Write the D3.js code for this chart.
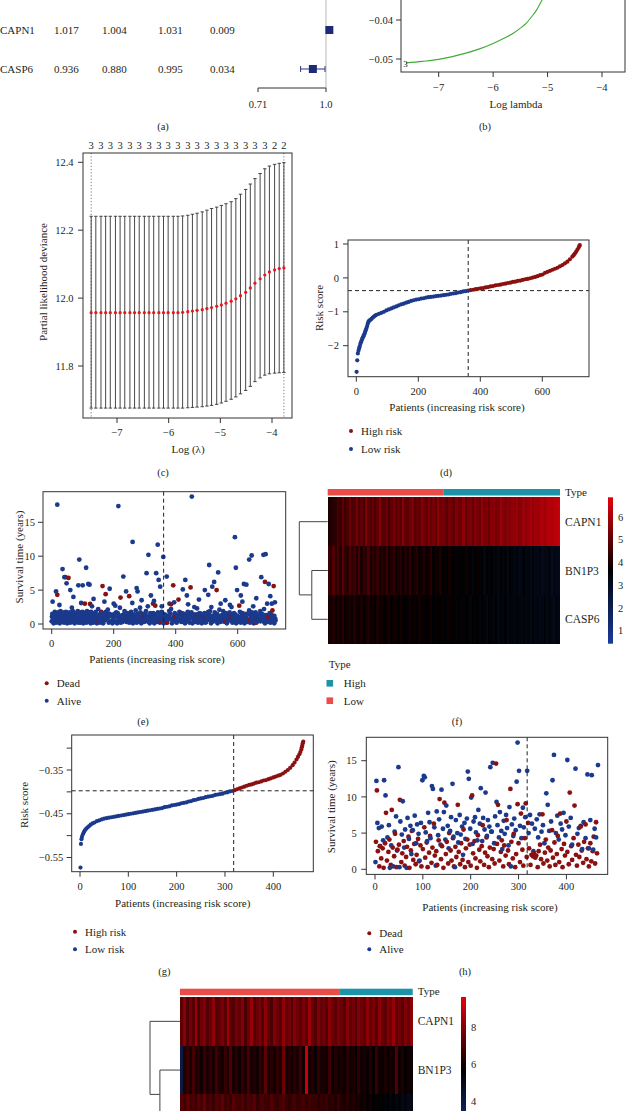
<!DOCTYPE html>
<html><head><meta charset="utf-8">
<script src="https://cdn.jsdelivr.net/npm/d3@7"></script>
<style>
body{margin:0;background:#fff}
svg{display:block}
text{font-family:"Liberation Serif","Times New Roman",serif;fill:#231f20}
</style></head>
<body><svg id="chart" width="626" height="1111"></svg>
<script>
// ---------------- DATA ----------------
// (a) forest plot
const aGenes = ["CAPN1", "CASP6"];
const aHR = [1.017, 0.936];
const aLow = [1.004, 0.880];
const aHigh = [1.031, 0.995];
const aP = [0.009, 0.034];
const aTicks = [0.71, 1.0];
const aTickLabels = ["0.71", "1.0"];

// (b) coefficient path (log lambda, coefficient)
const bLambda = [-7.6, -7.3, -7.0, -6.75, -6.5, -6.25, -6.0, -5.8, -5.63, -5.5, -5.39, -5.3, -5.2, -5.11, -5.0, -4.8];
const bCoef = [-0.0510, -0.0506, -0.0501, -0.0494, -0.0485, -0.0474, -0.0460, -0.0447, -0.0434, -0.0421, -0.0408, -0.0393, -0.0374, -0.0351, -0.0320, -0.0270];
const bXTicks = [-7, -6, -5, -4];
const bXLabels = ["−7", "−6", "−5", "−4"];
const bYTicks = [-0.05, -0.04];
const bYLabels = ["−0.05", "−0.04"];

// (c) cross-validation curve
const cLambda = [-7.50,-7.41,-7.31,-7.22,-7.13,-7.03,-6.94,-6.85,-6.75,-6.66,-6.57,-6.47,-6.38,-6.29,-6.19,-6.10,-6.01,-5.91,-5.82,-5.73,-5.63,-5.54,-5.45,-5.35,-5.26,-5.17,-5.07,-4.98,-4.89,-4.79,-4.70,-4.61,-4.51,-4.42,-4.33,-4.23,-4.14,-4.05,-3.95,-3.86,-3.77];
const cMean = [11.957,11.957,11.957,11.957,11.957,11.957,11.957,11.957,11.957,11.957,11.957,11.957,11.957,11.957,11.957,11.957,11.957,11.957,11.957,11.958,11.960,11.962,11.964,11.966,11.969,11.972,11.976,11.980,11.985,11.991,11.998,12.007,12.017,12.030,12.044,12.057,12.068,12.077,12.083,12.087,12.089];
const cUpper = [12.241,12.241,12.241,12.241,12.241,12.241,12.241,12.241,12.241,12.241,12.241,12.241,12.241,12.241,12.241,12.241,12.241,12.241,12.241,12.242,12.244,12.247,12.250,12.254,12.259,12.264,12.268,12.273,12.278,12.284,12.293,12.306,12.320,12.336,12.352,12.367,12.381,12.389,12.394,12.397,12.399];
const cLower = [11.676,11.676,11.676,11.676,11.676,11.676,11.676,11.676,11.676,11.676,11.676,11.676,11.676,11.676,11.676,11.676,11.676,11.676,11.676,11.676,11.677,11.678,11.679,11.680,11.682,11.684,11.687,11.691,11.696,11.702,11.709,11.718,11.728,11.740,11.754,11.765,11.773,11.777,11.779,11.780,11.781];
const cNonzero = [3,3,3,3,3,3,3,3,3,3,3,3,3,3,3,3,3,3,3,3,3,3,3,3,3,3,3,3,3,3,3,3,3,3,3,3,3,3,2,2,2];
const cXTicks = [-7, -6, -5, -4];
const cXLabels = ["−7", "−6", "−5", "−4"];
const cYTicks = [11.8, 12.0, 12.2, 12.4];
const cYLabels = ["11.8", "12.0", "12.2", "12.4"];

// (d) risk score, training cohort [patient rank, risk score]
const dRisk = [[1,-2.77],[3,-2.43],[5,-2.23],[7,-2.15],[9,-2.08],[11,-2.02],[13,-1.95],[15,-1.90],[17,-1.85],[19,-1.80],[21,-1.76],[23,-1.72],[25,-1.68],[27,-1.64],[29,-1.58],[31,-1.53],[33,-1.48],[35,-1.42],[37,-1.35],[39,-1.30],[41,-1.27],[45,-1.24],[49,-1.21],[53,-1.17],[57,-1.14],[61,-1.11],[65,-1.09],[73,-1.06],[81,-1.03],[89,-1.00],[97,-0.96],[105,-0.93],[113,-0.90],[121,-0.87],[129,-0.84],[137,-0.81],[145,-0.78],[153,-0.76],[161,-0.73],[169,-0.71],[177,-0.68],[185,-0.66],[193,-0.64],[201,-0.63],[209,-0.61],[217,-0.60],[225,-0.58],[233,-0.57],[241,-0.56],[249,-0.55],[257,-0.54],[265,-0.53],[273,-0.52],[281,-0.51],[289,-0.50],[297,-0.49],[305,-0.47],[313,-0.46],[321,-0.45],[329,-0.43],[337,-0.42],[345,-0.40],[353,-0.39],[361,-0.375],[369,-0.36],[377,-0.35],[385,-0.33],[393,-0.32],[401,-0.31],[409,-0.30],[417,-0.28],[425,-0.27],[433,-0.25],[441,-0.24],[449,-0.22],[457,-0.21],[465,-0.20],[473,-0.18],[481,-0.17],[489,-0.15],[497,-0.14],[505,-0.12],[513,-0.11],[521,-0.09],[529,-0.08],[537,-0.06],[545,-0.04],[553,-0.03],[561,-0.01],[569,0.01],[577,0.03],[585,0.05],[593,0.08],[601,0.10],[609,0.15],[617,0.18],[625,0.21],[633,0.24],[641,0.27],[649,0.30],[657,0.34],[665,0.38],[673,0.43],[681,0.48],[689,0.55],[697,0.63],[701,0.67],[705,0.72],[709,0.77],[713,0.83],[717,0.89],[719,0.93],[721,0.97]];
const dCutRank = 361;
const dCutScore = -0.375;
const dXTicks = [0, 200, 400, 600];
const dXLabels = ["0", "200", "400", "600"];
const dYTicks = [-2, -1, 0, 1];
const dYLabels = ["−2", "−1", "0", "1"];

// (e) survival status, training cohort [patient rank, years]
const eAlive = [[0,0.4],[2,1.5],[4,0.8],[6,0.1],[8,1.2],[10,1.8],[12,0.5],[14,0.2],[16,1.0],[18,1.6],[20,0.3],[22,0.9],[24,1.4],[26,0.1],[28,1.9],[30,0.6],[32,1.1],[34,0.3],[36,1.7],[38,0.8],[40,0.2],[42,1.3],[44,0.5],[46,1.8],[48,0.9],[50,0.1],[52,1.5],[54,0.4],[56,1.0],[58,1.7],[60,0.2],[62,0.7],[64,1.3],[66,0.3],[68,1.9],[70,0.6],[72,1.2],[74,0.1],[76,1.6],[78,0.8],[80,0.4],[82,1.4],[84,1.9],[86,0.2],[88,1.0],[90,0.5],[92,1.7],[94,0.3],[96,1.2],[98,0.7],[100,1.8],[102,0.1],[104,1.1],[106,0.4],[108,1.5],[110,0.9],[112,0.2],[114,1.9],[116,0.6],[118,1.3],[120,0.3],[122,1.7],[124,0.8],[126,0.1],[128,1.2],[130,0.5],[132,1.6],[134,0.2],[136,0.9],[138,1.4],[140,0.4],[142,1.8],[144,0.7],[146,0.1],[148,1.1],
[151,0.3],[154,1.4],[157,0.2],[160,0.7],[163,1.6],[166,0.1],[169,0.5],[172,1.1],[175,1.8],[178,0.8],[181,2.1],[184,0.2],[187,1.5],[190,1.2],[193,0.4],[196,0.1],[199,0.9],[202,1.5],[205,0.3],[208,1.7],[211,0.1],[214,1.0],[217,0.4],[220,2.4],[223,0.2],[226,0.8],[229,1.3],[232,0.5],[235,1.9],[238,0.9],[241,0.3],[244,1.6],[247,0.6],[250,0.2],[253,1.1],[256,1.8],[259,0.8],[262,0.1],[265,1.4],[268,0.5],[271,2.0],[274,0.2],[277,0.7],[280,1.2],[283,0.3],[286,1.7],[289,0.1],[292,0.6],[295,1.5],[298,0.3],[301,0.8],[304,1.9],[307,1.0],[310,2.6],[313,0.4],[316,0.1],[319,0.7],[322,1.3],[325,0.3],[328,1.6],[331,0.1],[334,0.5],[337,1.1],[340,0.3],[343,1.7],[346,0.6],[349,0.2],[352,1.0],[355,1.8],[358,0.8],[361,0.1],[364,1.4],[367,0.5],[370,0.2],[373,0.9],[376,1.2],[379,1.9],[382,0.7],[385,2.2],[388,0.1],[391,0.6],[394,1.1],[397,1.6],
[400,0.9],[403,0.2],[406,1.3],[409,0.5],[412,1.8],[415,1.0],[418,0.6],[421,1.5],[424,0.3],[427,0.8],[430,0.1],[433,1.2],[436,0.4],[439,1.8],[442,0.7],[445,0.2],[448,1.1],[451,1.7],[454,0.1],[457,0.9],[460,1.4],[463,0.3],[466,0.7],[469,2.3],[472,0.2],[475,1.0],[478,1.6],[481,1.3],[484,0.1],[487,0.8],[490,0.4],[493,1.6],[496,0.2],[499,0.9],[502,1.2],[505,1.8],[508,0.6],[511,1.9],[514,0.1],[517,1.1],[520,0.5],[523,0.8],[526,1.7],[529,1.4],[532,0.6],[535,0.1],[538,1.0],[541,2.1],[544,0.3],[547,0.7],[550,1.3],[553,1.9],[556,0.9],[559,0.4],[562,1.6],[565,0.1],[568,0.8],[571,1.2],[574,1.7],[577,0.6],[580,2.5],[583,0.2],[586,1.0],[589,0.5],[592,1.4],[595,0.1],[598,0.7],[601,1.1],[604,0.4],[607,1.8],[610,0.2],[613,0.9],[616,1.6],[619,1.3],[622,0.1],[625,0.8],[628,1.5],[631,0.3],[634,0.6],[637,2.0],[640,0.2],[643,1.0],[646,1.7],[649,1.2],[652,0.1],[655,0.7],[658,1.7],[661,0.3],[664,0.9],[667,0.5],[670,1.4],[673,1.9],[676,0.8],[679,1.1],[682,0.4],[685,2.2],[688,0.1],[691,0.6],[694,1.3],[697,0.3],[700,0.9],[703,1.6],[706,0.2],[709,0.7],[712,1.2],[715,0.4],[718,0.1],[721,0.8],
[1,1.1],[5,0.6],[9,1.4],[13,0.9],[17,0.3],[21,1.7],[25,0.7],[29,1.2],[33,0.4],[37,1.0],[43,0.6],[47,1.5],[53,0.8],[57,0.3],[63,1.1],[67,0.5],[73,1.6],[77,0.9],[83,0.6],[87,1.3],[93,0.2],[97,1.0],[103,1.5],[107,0.6],[113,0.9],[117,1.4],[123,0.4],[127,1.8],[133,1.0],[137,0.5],[143,1.3],[147,0.8],[153,1.2],[158,0.5],[163,0.9],[168,1.3],[173,0.6],[178,1.5],[183,1.0],[188,0.4],[193,1.3],[198,0.7],[203,1.1],[208,0.4],[213,1.6],[218,0.9],[223,1.2],[228,0.3],[233,1.4],[238,0.6],[243,1.1],[248,0.9],[253,1.6],[258,0.5],[263,1.0],[268,1.3],[273,0.7],[278,1.5],[283,1.0],[288,0.5],[293,1.2],[298,0.8],[303,1.4],[308,0.4],[313,1.1],[318,1.6],[323,0.6],[328,1.0],[333,1.4],[338,0.8],[343,0.4],[348,1.2],[353,1.5],[358,0.5],[363,1.0],[368,1.3],[373,0.6],[378,1.1],[383,1.5],[388,0.8],[393,0.4],[398,1.3],[403,0.7],[408,1.1],[413,1.4],[418,0.3],[423,1.0],[428,1.5],[433,0.7],[438,1.2],[443,0.5],[448,1.6],[453,0.9],[458,0.4],[463,1.2],[468,1.0],[473,1.5],[478,0.6],[483,1.1],[488,1.4],[493,0.8],[498,0.3],[503,1.0],[508,1.4],[513,0.6],[518,1.2],[523,0.4],[528,1.0],[533,1.5],[538,0.5],[543,1.2],[548,0.9],[553,0.4],[558,1.4],[563,0.8],[568,1.1],[573,0.5],[578,1.3],[583,0.9],[588,1.6],[593,0.6],[598,1.2],[603,0.3],[608,1.0],[613,1.5],[618,0.6],[623,1.2],[628,0.9],[633,0.4],[638,1.4],[643,0.7],[648,1.1],[653,0.5],[658,1.3],[663,0.8],[668,1.2],[673,0.4],[678,1.5],[683,0.9],[688,1.3],[693,0.6],[698,1.1],[703,0.4],[708,1.4],[713,0.9],[718,1.2],[722,0.5],
[25,2.8],[65,2.4],[95,3.1],[130,2.6],[170,3.3],[205,2.7],[260,3.1],[285,2.4],[330,3.4],[355,2.6],[395,3.2],[440,2.9],[475,3.6],[515,2.5],[545,3.0],[575,2.8],[615,3.3],[650,2.6],[695,3.0],[705,4.1],
[3,3.3],[14,4.8],[18,17.6],[35,8.1],[41,6.9],[44,6.9],[48,6.0],[60,5.0],[70,4.0],[86,5.7],[89,9.5],[100,5.7],[111,8.3],[118,5.9],[122,5.8],[135,3.7],[150,2.2],[187,5.2],[200,3.0],[215,17.4],[231,7.0],[240,4.8],[261,12.1],[274,5.3],[277,4.8],[290,3.5],[306,7.5],[312,10.2],[320,4.2],[337,7.5],[342,11.7],[345,6.5],[350,5.5],[360,9.9],[371,7.0],[380,3.0],[423,5.1],[431,6.5],[436,4.2],[452,18.8],[460,2.5],[494,5.0],[505,4.3],[508,8.7],[518,5.5],[524,6.2],[537,7.6],[560,3.5],[591,12.8],[594,8.3],[598,5.0],[610,4.2],[620,5.9],[628,5.8],[637,9.5],[645,10.1],[660,3.8],[676,6.9],[683,10.2],[690,10.3],[700,5.9],[710,3.0],[720,3.2]];
const eDead = [[18,4.3],[54,6.8],[107,3.0],[124,2.95],[150,0.3],[160,1.8],[164,5.6],[174,4.4],[222,3.9],[245,0.6],[250,4.1],[300,1.2],[327,3.0],[334,2.7],[352,0.4],[372,0.2],[385,2.9],[392,5.7],[400,1.0],[409,3.6],[420,1.6],[448,5.4],[470,1.4],[495,0.9],[532,5.0],[560,0.3],[578,1.0],[585,0.9],[605,2.7],[640,0.6],[660,0.2],[688,6.2],[700,1.1],[712,2.0],[716,5.6]];
const eXTicks = [0, 200, 400, 600];
const eXLabels = ["0", "200", "400", "600"];
const eYTicks = [0, 5, 10, 15];
const eYLabels = ["0", "5", "10", "15"];

// (f) heatmap, training cohort (columns ordered by patient rank)
const fTypeCounts = [361, 361]; // Low, High
const fGenes = ["CAPN1", "BN1P3", "CASP6"];
const fCAPN1 = [4.0,4.1,4.2,4.3,4.6,4.4,5.0,4.5,4.7,5.2,4.6,4.8,5.3,4.7,5.0,4.6,5.4,4.9,4.8,5.1,4.7,5.0,5.5,4.8,4.9,5.2,4.6,5.0,5.3,4.9,5.1,4.8,5.6,5.0,4.9,5.2,5.4,4.9,5.1,5.0,5.5,5.2,5.0,5.4,5.1,5.3,5.0,5.6,5.2,5.3,
5.2,4.9,5.3,5.1,5.0,5.4,5.1,5.2,5.6,5.0,5.3,5.4,5.1,5.5,5.3,5.2,5.7,5.3,5.4,5.2,5.5,5.6,5.3,5.4,5.8,5.5,5.4,5.6,5.5,5.7,5.6,5.8,5.5,5.7,5.9,5.6,5.8,6.0,5.7,5.9,5.8,6.0,6.1,5.9,6.1,6.2,6.1,6.3,6.3,6.4];
const fBN1P3 = [4.5,4.2,4.8,4.3,4.6,4.1,4.9,4.4,4.2,4.7,4.3,4.5,4.1,4.6,4.0,4.4,4.2,4.7,4.0,4.3,4.1,4.4,3.9,4.2,4.0,4.5,3.9,4.1,4.3,3.9,4.0,4.2,3.8,4.1,3.9,4.3,3.8,4.0,4.2,3.8,3.9,4.1,3.8,3.9,4.2,3.7,3.9,3.8,4.0,3.7,
3.8,3.6,3.9,3.7,3.6,3.8,3.5,3.7,3.6,3.9,3.5,3.7,3.4,3.6,3.8,3.5,3.6,3.3,3.7,3.5,3.6,3.4,3.5,3.3,3.7,3.4,3.5,3.2,3.6,3.4,3.3,3.5,3.2,3.4,3.6,3.3,3.4,3.1,3.5,3.3,3.2,3.4,3.1,3.3,3.2,3.4,3.0,3.3,3.2,3.1];
const fCASP6 = [4.0,3.9,4.1,3.8,4.0,3.9,4.2,3.8,3.9,4.0,3.8,4.1,3.9,3.8,4.0,3.7,3.9,4.1,3.8,3.9,3.7,4.0,3.8,3.9,3.7,3.8,4.0,3.7,3.9,3.8,3.7,3.9,3.8,3.6,3.8,3.9,3.7,3.8,3.6,3.9,3.7,3.8,3.6,3.7,3.9,3.6,3.8,3.7,3.6,3.8,
3.7,3.5,3.8,3.6,3.7,3.5,3.6,3.8,3.5,3.7,3.6,3.4,3.7,3.5,3.6,3.4,3.7,3.5,3.3,3.6,3.5,3.4,3.6,3.3,3.5,3.4,3.6,3.2,3.5,3.4,3.3,3.5,3.4,3.2,3.5,3.3,3.4,3.2,3.5,3.3,3.4,3.2,3.3,3.5,3.2,3.4,3.3,3.1,3.4,3.3];
const fColorDomain = [0.42, 3.65, 6.87];
const fBarTicks = [1, 2, 3, 4, 5, 6];

// (g) risk score, validation cohort
const gRisk = [[1,-0.573],[2,-0.519],[3,-0.508],[4,-0.503],[6,-0.497],[8,-0.492],[10,-0.488],[13,-0.484],[16,-0.481],[19,-0.478],[22,-0.475],[26,-0.472],[30,-0.470],[35,-0.467],[40,-0.465],[45,-0.463],[50,-0.461],[55,-0.460],[60,-0.459],[65,-0.458],[70,-0.457],[75,-0.456],[80,-0.455],[85,-0.454],[90,-0.453],[95,-0.452],[100,-0.451],[105,-0.450],[110,-0.449],[115,-0.448],[120,-0.447],[125,-0.446],[130,-0.445],[135,-0.444],[140,-0.443],[145,-0.442],[150,-0.441],[155,-0.440],[160,-0.439],[165,-0.438],[170,-0.437],[175,-0.435],[180,-0.434],[185,-0.433],[190,-0.431],[195,-0.430],[200,-0.429],[205,-0.428],[210,-0.426],[215,-0.425],[220,-0.424],[225,-0.422],[230,-0.421],[235,-0.419],[240,-0.418],[245,-0.416],[250,-0.415],[255,-0.414],[260,-0.412],[265,-0.411],[270,-0.410],[275,-0.409],[280,-0.407],[285,-0.406],[290,-0.405],[295,-0.404],[300,-0.402],[305,-0.401],[310,-0.399],[315,-0.398],[320,-0.396],[325,-0.394],[330,-0.392],[335,-0.390],[340,-0.388],[345,-0.386],[350,-0.384],[355,-0.383],[360,-0.381],[365,-0.379],[370,-0.378],[375,-0.376],[380,-0.374],[385,-0.373],[390,-0.371],[395,-0.369],[400,-0.367],[405,-0.365],[410,-0.363],[415,-0.361],[420,-0.358],[425,-0.354],[430,-0.350],[435,-0.345],[440,-0.339],[444,-0.333],[448,-0.326],[451,-0.320],[454,-0.314],[456,-0.309],[458,-0.303],[459,-0.298],[460,-0.294],[461,-0.289],[462,-0.285]];
const gCutRank = 318;
const gCutScore = -0.3975;
const gXTicks = [0, 100, 200, 300, 400];
const gXLabels = ["0", "100", "200", "300", "400"];
const gYTicks = [-0.55, -0.50, -0.45, -0.40, -0.35, -0.30];
const gYLabels = ["−0.55", "", "−0.45", "", "−0.35", ""];

// (h) survival status, validation cohort
const hDead = [[2,3.8],[4,10.9],[6,2.5],[9,0.4],[11,3.2],[13,1.5],[16,2.9],[18,0.2],[21,3.6],[23,7.8],[25,1.2],[28,2.4],[30,4.1],[33,0.6],[35,8.2],[37,3.0],[40,1.8],[42,4.9],[45,0.3],[47,2.7],[50,3.4],[52,9.6],[55,1.0],[57,2.2],[60,3.9],[62,0.5],[65,1.7],[67,3.1],[70,4.5],[72,0.2],[75,2.6],[77,5.3],[80,1.3],[82,3.5],[85,0.7],[87,2.0],[90,4.2],[92,1.1],[95,3.3],[97,0.4],[100,2.8],[103,5.8],[105,1.6],[108,3.7],[110,0.3],[113,2.3],[115,4.6],[118,0.9],[120,3.0],[123,6.3],[125,1.9],[128,2.5],[130,0.6],[133,4.0],[135,9.7],[138,1.4],[140,3.2],[143,0.2],[145,9.2],[148,2.1],[150,3.8],[153,0.8],[155,5.0],[158,2.6],[160,1.2],[163,4.3],[165,0.4],[168,3.1],[170,1.7],[173,8.9],[175,2.4],[178,0.7],[180,3.6],[183,1.3],[185,5.5],[188,0.3],[190,2.9],[193,4.1],[195,1.0],[198,3.4],[200,0.5],[203,10.2],[205,2.2],[208,3.9],[210,1.5],[213,0.2],[215,4.7],[218,2.7],[220,1.1],[223,3.2],[225,6.1],[228,0.6],[230,2.3],[233,4.4],[235,1.8],[238,0.3],[240,3.0],[243,5.2],[245,1.4],[248,2.8],[250,0.8],[253,14.6],[255,3.5],[257,8.9],[260,1.2],[263,2.4],[265,4.0],[268,0.4],[270,3.3],[273,1.9],[275,6.8],[278,2.6],[280,0.7],[283,11.1],[285,3.8],[288,1.5],[290,4.9],[293,0.3],[295,2.1],[298,9.0],[300,3.6],[303,1.0],[305,7.7],[308,2.7],[310,0.5],[313,4.3],[315,9.1],[317,1.7],[320,6.4],[322,2.9],[325,0.6],[327,2.0],[330,1.8],[332,2.2],[335,1.6],[337,1.9],[340,0.3],[342,2.5],[345,3.4],[347,1.4],[350,7.6],[352,0.8],[355,2.3],[357,4.1],[360,1.2],[362,3.0],[365,0.4],[367,2.6],[370,5.4],[372,1.6],[375,3.7],[377,0.6],[380,2.1],[382,4.6],[385,1.0],[387,7.7],[390,2.8],[392,0.3],[395,3.5],[397,1.9],[400,6.6],[402,2.4],[405,0.7],[407,10.6],[410,3.2],[412,1.3],[415,4.3],[417,8.8],[420,2.0],[422,0.5],[425,3.4],[427,1.7],[430,5.9],[432,2.6],[435,0.9],[437,3.8],[440,6.2],[442,1.4],[445,2.9],[447,0.4],[450,3.6],[452,1.1],[455,2.5],[457,4.5],[460,0.8],[462,6.5],[464,2.2]];
const hAlive = [[1,1.0],[3,12.2],[5,6.4],[8,5.7],[10,3.2],[14,5.9],[17,4.0],[19,12.3],[22,10.2],[26,4.4],[29,6.1],[31,0.2],[34,3.3],[38,0.4],[41,5.2],[44,7.3],[46,2.6],[49,14.1],[51,0.3],[53,6.6],[56,4.8],[58,9.4],[61,3.0],[63,5.5],[66,0.2],[68,7.1],[71,4.2],[74,6.0],[76,2.1],[79,5.4],[83,7.4],[86,3.6],[88,6.2],[91,4.9],[93,1.2],[96,6.4],[99,12.3],[102,12.9],[104,12.7],[106,5.1],[109,3.9],[111,7.8],[114,6.5],[116,4.3],[119,11.5],[121,11.1],[124,5.8],[127,0.5],[129,8.0],[132,4.7],[134,6.9],[137,3.4],[139,11.0],[142,5.6],[144,7.9],[147,4.1],[149,8.8],[152,6.0],[154,2.9],[157,5.3],[159,7.2],[162,11.8],[164,4.5],[167,0.3],[169,6.8],[172,5.0],[174,3.7],[177,7.5],[179,4.8],[182,5.9],[184,2.0],[187,6.4],[189,4.2],[192,7.0],[194,13.5],[196,12.5],[199,5.6],[201,9.9],[204,3.5],[206,6.6],[209,7.2],[211,5.1],[214,4.0],[216,8.2],[219,6.3],[221,11.2],[224,3.9],[226,7.1],[229,5.5],[231,10.6],[234,4.6],[236,6.8],[239,5.9],[241,14.1],[244,5.2],[246,14.7],[249,3.6],[251,7.3],[254,9.3],[256,6.1],[259,4.4],[261,7.9],[264,5.3],[266,2.8],[269,6.7],[271,4.9],[274,7.5],[276,5.7],[279,3.3],[281,8.6],[284,0.4],[286,6.2],[289,4.6],[291,7.0],[294,5.4],[296,12.1],[298,17.5],[301,13.6],[303,6.0],[306,4.3],[309,8.5],[311,5.8],[314,7.2],[318,13.6],[321,5.0],[324,7.5],[328,6.3],[331,2.5],[334,5.6],[338,6.9],[341,4.4],[344,7.6],[348,5.2],[351,6.1],[354,3.6],[358,10.5],[361,8.9],[364,5.3],[368,6.6],[371,12.3],[374,15.8],[378,5.0],[381,7.4],[384,4.1],[388,6.3],[391,5.5],[394,7.8],[398,4.7],[402,15.1],[405,5.9],[409,7.1],[412,3.4],[419,13.9],[423,4.9],[426,5.7],[430,6.0],[433,2.8],[436,6.5],[440,4.3],[444,13.1],[447,2.9],[450,6.8],[453,13.0],[456,2.7],[459,5.6],[462,4.4],[466,14.4]];
const hXTicks = [0, 100, 200, 300, 400];
const hXLabels = ["0", "100", "200", "300", "400"];
const hYTicks = [0, 5, 10, 15];
const hYLabels = ["0", "5", "10", "15"];

// (i) heatmap, validation cohort
const iTypeCounts = [318, 147]; // Low, High
const iGenes = ["CAPN1", "BN1P3", "CASP6"];
const iCAPN1 = [7.3,8.1,7.0,7.7,7.2,8.4,6.9,7.6,7.9,7.1,7.5,8.2,7.0,7.4,7.8,7.2,8.5,7.3,7.1,7.7,7.4,8.0,6.9,7.6,8.3,7.2,7.5,7.8,7.1,8.1,7.3,7.0,7.9,7.5,7.2,8.2,7.4,7.7,7.1,8.0,7.6,7.2,7.8,7.3,8.4,7.5,7.1,7.9,7.4,7.7,7.2,8.1,7.6,7.3,7.8,
7.5,7.2,8.0,7.4,7.7,7.1,7.9,7.6,7.3,8.2,7.4,7.8,7.2,8.1,7.5,7.3,8.0,7.6,8.3,7.4,7.7,7.2,7.9,7.5,8.1];
const iBN1P3 = [4.0,6.3,6.6,6.2,6.9,6.1,6.4,6.0,6.7,6.2,6.5,6.1,6.8,6.3,6.0,6.6,6.2,7.0,6.1,6.4,6.0,6.5,6.2,6.9,6.1,6.3,6.0,6.6,6.2,7.3,6.1,6.4,6.0,6.5,6.2,7.6,6.1,6.3,6.0,6.4,6.2,6.7,6.0,9.2,6.1,6.3,5.9,6.5,6.1,6.2,6.0,6.8,5.9,6.3,6.0,
6.1,5.9,6.4,6.0,6.2,5.8,6.5,6.0,6.1,5.9,6.3,5.8,6.6,6.0,5.9,6.2,5.8,6.1,6.0,7.1,5.9,6.2,5.8,6.0,5.9];
const iCASP6 = [7.1,6.8,7.3,6.9,7.0,6.7,7.2,6.9,7.4,6.8,7.0,6.7,7.1,6.9,7.3,6.8,7.0,6.6,7.2,6.9,6.8,7.1,6.7,7.0,6.9,7.2,6.6,6.9,7.0,6.8,6.7,7.1,6.8,6.6,6.9,7.0,6.7,6.5,6.8,6.9,6.6,6.7,6.9,6.5,6.8,6.6,6.7,6.4,6.6,6.5,6.7,6.4,6.5,6.3,6.6,
6.3,6.2,6.4,6.1,6.3,6.0,6.2,5.9,6.1,5.8,6.0,5.7,5.9,5.6,5.8,5.5,5.7,5.4,5.6,5.3,5.5,5.2,5.4,5.1,5.2];
const iColorDomain = [1.76, 5.71, 9.66];
const iBarTicks = [4, 6, 8];

// ---------------- DRAWING ----------------
const W = 626, H = 1111;
const svg = d3.select("#chart");
const BLUE = "#1b3a8c", RED = "#8b1111";
const TYPE_LOW = "#ea4d48", TYPE_HIGH = "#1d93a7";
const TICK = 10.5, TITLE = 11;

function T(x, y, s, o = {}) {
  const t = svg.append("text").attr("dy", "0.35em")
    .attr("font-size", o.size || TITLE).attr("text-anchor", o.anchor || "middle").text(s);
  if (o.rot) t.attr("transform", `translate(${x},${y}) rotate(-90)`);
  else t.attr("x", x).attr("y", y);
  if (o.weight) t.attr("font-weight", o.weight);
  return t;
}
function box(x0, y0, x1, y1) {
  svg.append("rect").attr("x", x0).attr("y", y0).attr("width", x1 - x0).attr("height", y1 - y0)
    .attr("fill", "none").attr("stroke", "#333").attr("stroke-width", 1);
}
function xAxis(scale, y, vals, labels, len = 5, off = 14.5) {
  const g = svg.append("g");
  g.selectAll("line").data(vals).join("line")
    .attr("x1", d => scale(d)).attr("x2", d => scale(d)).attr("y1", y).attr("y2", y + len)
    .attr("stroke", "#333");
  g.selectAll("text").data(vals).join("text")
    .attr("x", d => scale(d)).attr("y", y + off).attr("dy", "0.35em")
    .attr("text-anchor", "middle").attr("font-size", TICK).text((d, i) => labels[i]);
}
function yAxis(scale, x, vals, labels, len = 5, off = 9) {
  const g = svg.append("g");
  g.selectAll("line").data(vals).join("line")
    .attr("y1", d => scale(d)).attr("y2", d => scale(d)).attr("x1", x - len).attr("x2", x)
    .attr("stroke", "#333");
  g.selectAll("text").data(vals).join("text")
    .attr("y", d => scale(d)).attr("x", x - off).attr("dy", "0.35em")
    .attr("text-anchor", "end").attr("font-size", TICK).text((d, i) => labels[i]);
}
function dash(x1, y1, x2, y2) {
  svg.append("line").attr("x1", x1).attr("y1", y1).attr("x2", x2).attr("y2", y2)
    .attr("stroke", "#222").attr("stroke-width", 1).attr("stroke-dasharray", "4,3");
}
function legendDots(x, ys, colors, labels) {
  ys.forEach((y, i) => {
    svg.append("circle").attr("cx", x).attr("cy", y).attr("r", 2).attr("fill", colors[i]);
    T(x + 10, y, labels[i], { anchor: "start" });
  });
}

// ----- (a) forest plot -----
const xA = d3.scaleLog().domain([0.71, 1.0]).range([258, 326]);
const aRowY = d3.scalePoint().domain(aGenes).range([30, 69]);
const aCols = [0, 54, 102, 158, 210];
svg.append("line").attr("x1", xA(1)).attr("x2", xA(1)).attr("y1", 0).attr("y2", 88)
  .attr("stroke", "#c4c4c4").attr("stroke-width", 1.2);
aGenes.forEach((g, i) => {
  const y = aRowY(g);
  const fmt = d3.format(".3f");
  [g, fmt(aHR[i]), fmt(aLow[i]), fmt(aHigh[i]), fmt(aP[i])].forEach((s, j) =>
    T(aCols[j], y, s, { anchor: "start", size: 11 }));
  svg.append("line").attr("x1", xA(aLow[i])).attr("x2", xA(aHigh[i])).attr("y1", y).attr("y2", y)
    .attr("stroke", "#2a3580").attr("stroke-width", 1);
  [aLow[i], aHigh[i]].forEach(v => svg.append("line").attr("x1", xA(v)).attr("x2", xA(v))
    .attr("y1", y - 3).attr("y2", y + 3).attr("stroke", "#2a3580"));
  svg.append("rect").attr("x", xA(aHR[i]) - 4).attr("y", y - 4).attr("width", 8).attr("height", 8)
    .attr("fill", "#1c2a78");
});
svg.append("line").attr("x1", xA(aTicks[0])).attr("x2", xA(aTicks[1])).attr("y1", 88).attr("y2", 88).attr("stroke", "#333");
xAxis(xA, 88, aTicks, aTickLabels, 4, 16);
T(163, 126, "(a)", { size: 10.5 });

// ----- (b) coefficient path -----
const xB = d3.scaleLinear().domain([-7, -4]).range([438.7, 602]);
const yB = d3.scaleLinear().domain([-0.05, -0.04]).range([59, 20]);
svg.append("clipPath").attr("id", "clipB").append("rect").attr("x", 401).attr("y", -200).attr("width", 224).attr("height", 272);
svg.append("path").datum(d3.zip(bLambda, bCoef)).attr("clip-path", "url(#clipB)")
  .attr("d", d3.line().x(d => xB(d[0])).y(d => yB(d[1])).curve(d3.curveMonotoneX))
  .attr("fill", "none").attr("stroke", "#41ab36").attr("stroke-width", 1.1);
box(401, -20, 625, 72);
xAxis(xB, 72, bXTicks, bXLabels, 5, 15.5);
yAxis(yB, 401, bYTicks, bYLabels, 5, 8);
T(405.5, yB(bCoef[0]) + 0.5, "3", { size: 9 });
T(516, 104, "Log lambda");
T(485, 126, "(b)", { size: 10.5 });

// ----- (c) CV curve -----
const xC = d3.scaleLinear().domain([-7, -4]).range([117, 272]);
const yC = d3.scaleLinear().domain([11.8, 12.4]).range([366, 162.3]);
[cLambda[0], cLambda[cLambda.length - 1]].forEach(l =>
  svg.append("line").attr("x1", xC(l)).attr("x2", xC(l)).attr("y1", 153).attr("y2", 418)
    .attr("stroke", "#777").attr("stroke-dasharray", "1.2,2"));
const cg = svg.append("g");
cLambda.forEach((l, i) => {
  const x = xC(l);
  cg.append("line").attr("x1", x).attr("x2", x).attr("y1", yC(cLower[i])).attr("y2", yC(cUpper[i])).attr("stroke", "#333").attr("stroke-width", 0.9);
  [cLower[i], cUpper[i]].forEach(v => cg.append("line").attr("x1", x - 1.7).attr("x2", x + 1.7).attr("y1", yC(v)).attr("y2", yC(v)).attr("stroke", "#333").attr("stroke-width", 0.9));
});
cg.selectAll("circle").data(cMean).join("circle").attr("cx", (d, i) => xC(cLambda[i])).attr("cy", d => yC(d)).attr("r", 1.6).attr("fill", "#e8151b");
svg.append("g").selectAll("text").data(cNonzero.filter((d, i) => i % 2 === 0)).join("text")
  .attr("x", (d, i) => xC(cLambda[i * 2])).attr("y", 145).attr("dy", "0.35em").attr("text-anchor", "middle")
  .attr("font-size", TICK).text(d => d);
box(83, 153, 292, 418);
xAxis(xC, 418, cXTicks, cXLabels, 5, 14);
yAxis(yC, 83, cYTicks, cYLabels, 5, 9.5);
T(43, 282, "Partial likelihood deviance", { rot: true });
T(188, 449, "Log (λ)");
T(163, 472, "(c)", { size: 10.5 });

// ----- (d) risk score training -----
const xD = d3.scaleLinear().domain([0, 600]).range([356.3, 542.3]);
const yD = d3.scaleLinear().domain([-2, 1]).range([345.7, 244]);
dash(xD(dCutRank), 240, xD(dCutRank), 376.7);
dash(348, yD(dCutScore), 589, yD(dCutScore));
svg.append("g").selectAll("circle").data(dRisk).join("circle")
  .attr("cx", d => xD(d[0])).attr("cy", d => yD(d[1])).attr("r", 2.1)
  .attr("fill", d => d[0] > dCutRank ? RED : BLUE);
box(348, 240, 589, 376.7);
xAxis(xD, 376.7, dXTicks, dXLabels, 5, 14.5);
yAxis(yD, 348, dYTicks, dYLabels, 5, 9);
T(319, 308, "Risk score", { rot: true });
T(457, 407, "Patients (increasing risk score)");
legendDots(351, [431, 449], [RED, BLUE], ["High risk", "Low risk"]);
T(446, 472, "(d)", { size: 10.5 });

// ----- (e) survival training -----
const xE = d3.scaleLinear().domain([0, 600]).range([51.7, 237.7]);
const yE = d3.scaleLinear().domain([0, 15]).range([624, 522.3]);
const ePts = eAlive.map(d => [d[0], d[1], 0]).concat(eDead.map(d => [d[0], d[1], 1])).sort((a, b) => a[0] - b[0]);
svg.append("g").selectAll("circle").data(ePts).join("circle")
  .attr("cx", d => xE(d[0])).attr("cy", d => yE(d[1])).attr("r", 2.4)
  .attr("fill", d => d[2] ? RED : BLUE);
dash(xE(dCutRank), 491.7, xE(dCutRank), 629);
box(43, 491.7, 285.7, 629);
xAxis(xE, 629, eXTicks, eXLabels, 5, 14);
yAxis(yE, 43, eYTicks, eYLabels, 5, 8);
T(19, 557, "Survival time (years)", { rot: true });
T(157, 659.3, "Patients (increasing risk score)");
legendDots(46.7, [683.3, 700.7], [RED, BLUE], ["Dead", "Alive"]);
T(143, 721.7, "(e)", { size: 10.5 });

// ----- heatmap helper -----
function heatmap(cfg) {
  const { x0, x1, top, rowH, rows, genes, domain, typeCounts, barX, barTicks, tree, treeX0, treeX1 } = cfg;
  const color = d3.scaleLinear().domain(domain).range(["#1a3c9c", "#000000", "#e5000b"]).clamp(true);
  const nT = d3.sum(typeCounts);
  const xt = d3.scaleLinear().domain([0, nT]).range([x0, x1]);
  svg.append("rect").attr("x", xt(0)).attr("y", top - 8.3).attr("width", xt(typeCounts[0]) - xt(0)).attr("height", 6.5).attr("fill", TYPE_LOW);
  svg.append("rect").attr("x", xt(typeCounts[0])).attr("y", top - 8.3).attr("width", xt(nT) - xt(typeCounts[0])).attr("height", 6.5).attr("fill", TYPE_HIGH);
  rows.forEach((vals, r) => {
    const xs = d3.scaleBand().domain(d3.range(vals.length)).range([x0, x1]);
    svg.append("g").selectAll("rect").data(vals).join("rect")
      .attr("x", (d, i) => xs(i)).attr("y", top + r * rowH)
      .attr("width", (d, i) => Math.min(xs.bandwidth() + 0.5, x1 - xs(i))).attr("height", rowH)
      .attr("fill", d => color(d)).attr("shape-rendering", "crispEdges");
    const ly = top + r * rowH + rowH / 2;
    if (ly + 8 < H) T(x1 + 5, ly, genes[r], { anchor: "start", size: 11.5 });
  });
  T(x1 + 5, top - 5.5, "Type", { anchor: "start", size: 11 });
  // colour bar
  const barTop = top, barBot = top + rows.length * rowH;
  const yb = d3.scaleLinear().domain([domain[0], domain[2]]).range([barBot, barTop]);
  const gid = "grad" + Math.round(x0);
  const grad = svg.append("defs").append("linearGradient").attr("id", gid).attr("x1", 0).attr("y1", 1).attr("x2", 0).attr("y2", 0);
  grad.selectAll("stop").data(domain).join("stop")
    .attr("offset", d => (d - domain[0]) / (domain[2] - domain[0]))
    .attr("stop-color", d => color(d));
  svg.append("rect").attr("x", barX).attr("y", barTop).attr("width", 5).attr("height", barBot - barTop).attr("fill", `url(#${gid})`);
  svg.append("g").selectAll("text").data(barTicks).join("text")
    .attr("x", barX + 10).attr("y", d => yb(d)).attr("dy", "0.35em").attr("font-size", TICK).text(d => d);
  // dendrogram
  const hx = d3.scaleLinear().domain([0, 1]).range([treeX1, treeX0]);
  const c = d3.range(rows.length).map(r => top + r * rowH + rowH / 2);
  const mid = (c[1] + c[2]) / 2;
  const p = d3.path();
  p.moveTo(x0, c[1]); p.lineTo(hx(tree[0]), c[1]); p.lineTo(hx(tree[0]), c[2]); p.lineTo(x0, c[2]);
  p.moveTo(x0, c[0]); p.lineTo(hx(tree[1]), c[0]); p.lineTo(hx(tree[1]), mid); p.lineTo(hx(tree[0]), mid);
  svg.append("path").attr("d", p.toString()).attr("fill", "none").attr("stroke", "#444").attr("stroke-width", 1);
}

// ----- (f) -----
heatmap({ x0: 327.7, x1: 560, top: 497.3, rowH: 48.8, rows: [fCAPN1, fBN1P3, fCASP6], genes: fGenes,
  domain: fColorDomain, typeCounts: fTypeCounts, barX: 608, barTicks: fBarTicks, tree: [0.56, 1.0], treeX0: 299.3, treeX1: 327.7 });
T(328.7, 664, "Type", { anchor: "start" });
[[683.3, TYPE_HIGH, "High"], [700.7, TYPE_LOW, "Low"]].forEach(([y, c, s]) => {
  svg.append("rect").attr("x", 326.5).attr("y", y - 3.3).attr("width", 6.6).attr("height", 6.6).attr("fill", c);
  T(343.7, y, s, { anchor: "start" });
});
T(457, 721.7, "(f)", { size: 10.5 });

// ----- (g) risk score validation -----
const xG = d3.scaleLinear().domain([0, 400]).range([80, 273.3]);
const yG = d3.scaleLinear().domain([-0.55, -0.35]).range([857.5, 770]);
dash(xG(gCutRank), 735, xG(gCutRank), 871.7);
dash(71.7, yG(gCutScore), 313.3, yG(gCutScore));
svg.append("g").selectAll("circle").data(gRisk).join("circle")
  .attr("cx", d => xG(d[0])).attr("cy", d => yG(d[1])).attr("r", 2.1)
  .attr("fill", d => d[0] > gCutRank ? RED : BLUE);
box(71.7, 735, 313.3, 871.7);
xAxis(xG, 871.7, gXTicks, gXLabels, 5, 14.3);
yAxis(yG, 71.7, gYTicks, gYLabels, 5, 8.5);
T(24, 805, "Risk score", { rot: true });
T(182.7, 903.3, "Patients (increasing risk score)");
legendDots(75, [931.7, 949.3], [RED, BLUE], ["High risk", "Low risk"]);
T(164.3, 971, "(g)", { size: 10.5 });

// ----- (h) survival validation -----
const xH = d3.scaleLinear().domain([0, 400]).range([375, 566.4]);
const yH = d3.scaleLinear().domain([0, 15]).range([869.3, 760.7]);
const hPts = hAlive.map(d => [d[0], d[1], 0]).concat(hDead.map(d => [d[0], d[1], 1])).sort((a, b) => a[0] - b[0]);
svg.append("g").selectAll("circle").data(hPts).join("circle")
  .attr("cx", d => xH(d[0])).attr("cy", d => yH(d[1])).attr("r", 2.4)
  .attr("fill", d => d[2] ? RED : BLUE);
dash(xH(gCutRank), 737.3, xH(gCutRank), 874.4);
box(366.3, 737.3, 607.7, 874.4);
xAxis(xH, 874.4, hXTicks, hXLabels, 5, 11.8);
yAxis(yH, 366.3, hYTicks, hYLabels, 5, 9.5);
T(331.3, 806.7, "Survival time (years)", { rot: true });
T(490, 907.3, "Patients (increasing risk score)");
legendDots(369.3, [933.3, 949.3], [RED, BLUE], ["Dead", "Alive"]);
T(465, 971, "(h)", { size: 10.5 });

// ----- (i) -----
heatmap({ x0: 180, x1: 412.7, top: 997, rowH: 48.7, rows: [iCAPN1, iBN1P3, iCASP6], genes: iGenes,
  domain: iColorDomain, typeCounts: iTypeCounts, barX: 461, barTicks: iBarTicks, tree: [0.67, 1.0], treeX0: 150, treeX1: 180 });
</script></body></html>
